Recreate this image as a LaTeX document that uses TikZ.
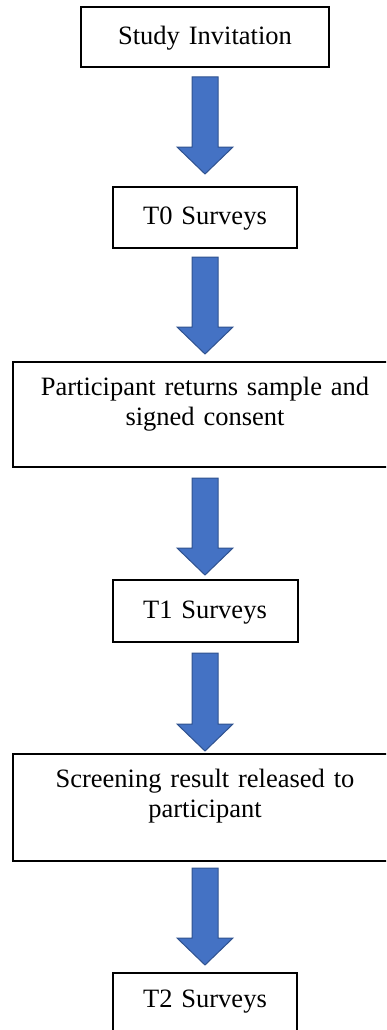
\documentclass[tikz,border=0pt]{standalone}
\usepackage{fontspec}
\setmainfont{Liberation Serif}
\usetikzlibrary{calc}
\definecolor{arrowfill}{HTML}{4472C4}
\definecolor{arrowline}{HTML}{2F528F}
\tikzset{
  box/.style={draw=black, line width=2pt, fill=white, rectangle, inner sep=0pt},
  lbl/.style={font=\fontsize{26.5}{30}\selectfont, align=center, inner sep=0pt, text width=360pt},
  barrow/.style={fill=arrowfill, draw=arrowline, line width=1pt, line join=miter},
}
% block arrow: #1 shaft top y, #2 tip y (y grows downwards)
\newcommand{\blockarrow}[2]{%
  \draw[barrow] (192,#1) -- (218,#1) -- (218,{#2-27}) -- (233,{#2-27}) -- (205,#2)
     -- (177,{#2-27}) -- (192,{#2-27}) -- cycle;}
\begin{document}
\begin{tikzpicture}[x=1pt,y=-1pt]
\useasboundingbox (0,0) rectangle (386,1030);
\clip (0,0) rectangle (386,1030);
% boxes
\node[box, minimum width=248pt, minimum height=60pt] (b1) at (205,37) {};
\node[lbl] at ($(b1.center)+(0,1.5)$) {Study Invitation};
\node[box, minimum width=184pt, minimum height=61pt] (b2) at (205,217.5) {};
\node[lbl] at ($(b2.center)+(0,1.5)$) {T0 Surveys};
\node[box, minimum width=384pt, minimum height=105pt] (b3) at (205,414.5) {};
\node[lbl, anchor=north] at ($(b3.north)+(0,16)$) {Participant returns sample and\\signed consent};
\node[box, minimum width=185pt, minimum height=62pt] (b4) at (205,611) {};
\node[lbl] at ($(b4.center)+(0,1.5)$) {T1 Surveys};
\node[box, minimum width=384pt, minimum height=107pt] (b5) at (205,807.5) {};
\node[lbl, anchor=north] at ($(b5.north)+(0,16)$) {Screening result released to\\participant};
\node[box, minimum width=184pt, minimum height=70pt] (b6) at (205,1008) {};
\node[lbl] at (205,1002) {T2 Surveys};
% arrows
\blockarrow{77}{174}
\blockarrow{257}{354}
\blockarrow{478}{575}
\blockarrow{653}{751}
\blockarrow{868}{965}
\end{tikzpicture}
\end{document}
